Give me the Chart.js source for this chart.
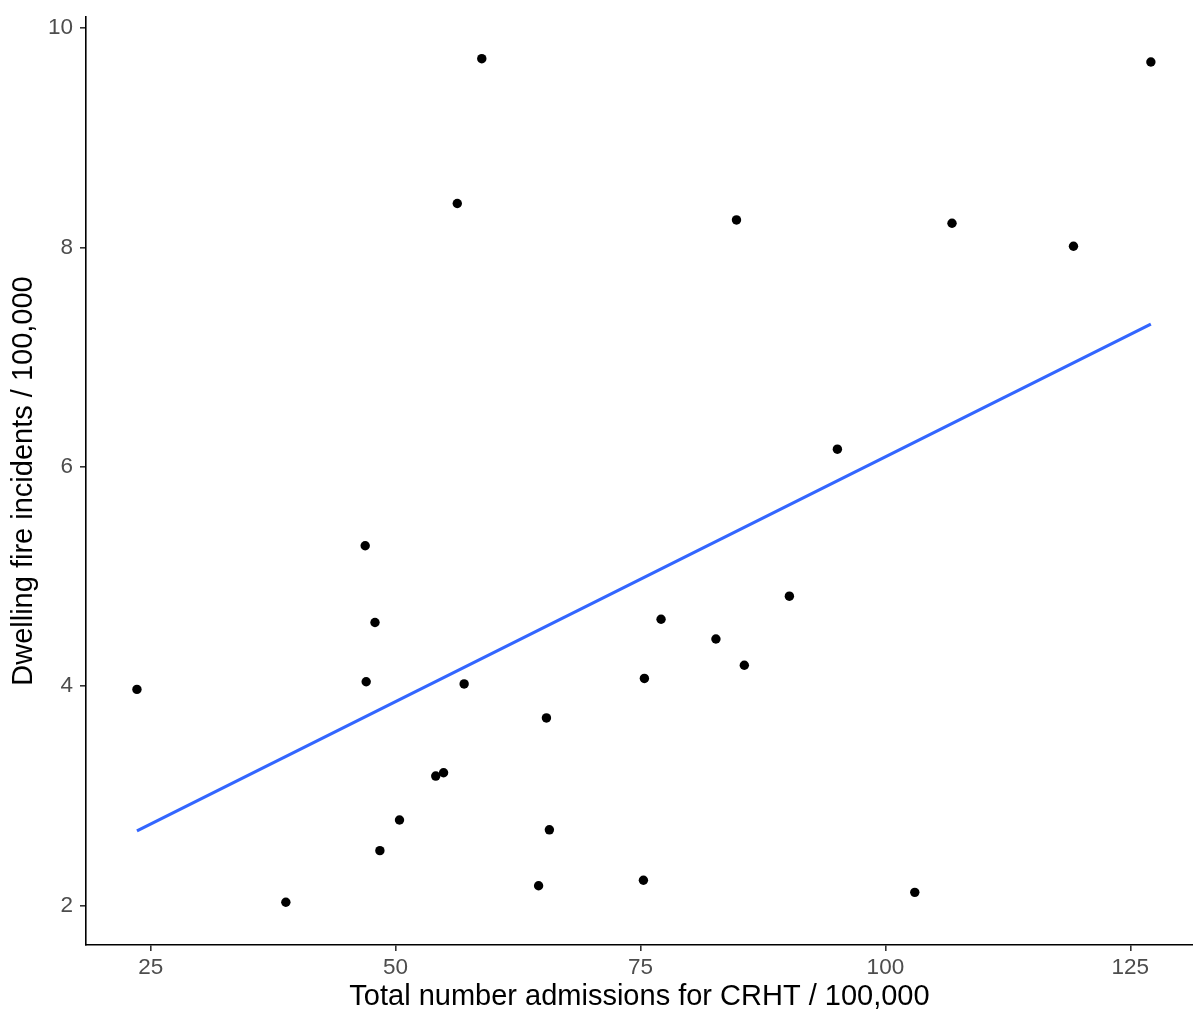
<!DOCTYPE html>
<html>
<head>
<meta charset="utf-8">
<script src="https://cdn.jsdelivr.net/npm/chart.js@4/dist/chart.umd.min.js"></script>
<style>
  html, body { margin: 0; padding: 0; background: #fff; overflow: hidden; }
  canvas { display: block; }
</style>
</head>
<body>
<canvas id="myChart" width="1193" height="1010"></canvas>
<script>
// admissions for CRHT / 100,000 (x) vs dwelling fire incidents / 100,000 (y)
const admissions = [23.6, 38.8, 46.9, 47.9, 47.0, 48.4, 50.4, 54.1, 54.9, 56.3, 57.0, 58.8,
  65.4, 64.6, 65.7, 75.3, 75.4, 77.1, 82.7, 84.8, 85.6, 90.2, 95.1, 103.0, 106.8, 119.2, 127.1];
const fires = [3.97, 2.03, 5.28, 4.58, 4.04, 2.50, 2.78, 3.18, 3.21, 8.40, 4.02, 9.72,
  3.71, 2.18, 2.69, 2.23, 4.07, 4.61, 4.43, 8.25, 4.19, 4.82, 6.16, 2.12, 8.22, 8.01, 9.69];

// fitted line, ends
const fitX = [23.6, 127.1];
const fitY = [2.68, 7.30];

const xTicks = [25, 50, 75, 100, 125];
const yTicks = [2, 4, 6, 8, 10];

const ctx = document.getElementById('myChart');
const fontFamily = 'Liberation Sans, Arial, Helvetica, sans-serif';

new Chart(ctx, {
  type: 'scatter',
  data: {
    datasets: [
      {
        label: 'fit',
        data: fitX.map((x, i) => ({ x: x, y: fitY[i] })),
        showLine: true,
        borderColor: '#3366FF',
        borderWidth: 3.2,
        pointRadius: 0,
        fill: false,
      },
      {
        label: 'points',
        data: admissions.map((x, i) => ({ x: x, y: fires[i] })),
        backgroundColor: '#000',
        borderWidth: 0,
        pointRadius: 4.7,
      },
    ],
  },
  options: {
    responsive: false,
    animation: false,
    layout: { autoPadding: false, padding: { top: 17, right: 0, left: 0, bottom: 0 } },
    plugins: {
      legend: { display: false },
      tooltip: { enabled: false },
    },
    scales: {
      x: {
        type: 'linear',
        min: 18.4,
        max: 131.4,
        afterBuildTicks: (scale) => { scale.ticks = xTicks.map(v => ({ value: v })); },
        afterFit: (scale) => {
          scale.height = 65;
          scale.paddingLeft = 0;
          scale.paddingRight = 0;
        },
        border: { display: true, color: '#000', width: 1.6 },
        grid: { drawOnChartArea: false, drawTicks: true, tickLength: 6, color: '#333', lineWidth: 1.6 },
        ticks: {
          color: '#4D4D4D',
          padding: 3,
          font: { family: fontFamily, size: 22.5 },
          maxRotation: 0,
        },
        title: {
          display: true,
          text: 'Total number admissions for CRHT / 100,000',
          color: '#000',
          font: { family: fontFamily, size: 29, lineHeight: 1 },
          padding: { top: 0, bottom: -1 },
        },
      },
      y: {
        type: 'linear',
        min: 1.64,
        max: 10.10,
        afterBuildTicks: (scale) => { scale.ticks = yTicks.map(v => ({ value: v })); },
        afterFit: (scale) => {
          scale.width = 86;
          scale.paddingTop = 0;
          scale.paddingBottom = 0;
        },
        border: { display: true, color: '#000', width: 1.6 },
        grid: { drawOnChartArea: false, drawTicks: true, tickLength: 6, color: '#333', lineWidth: 1.6 },
        ticks: {
          color: '#4D4D4D',
          padding: 7,
          font: { family: fontFamily, size: 22.5 },
        },
        title: {
          display: true,
          text: 'Dwelling fire incidents / 100,000',
          color: '#000',
          font: { family: fontFamily, size: 29, lineHeight: 1 },
          padding: { top: 9, bottom: 0 },
        },
      },
    },
  },
});
</script>
</body>
</html>
